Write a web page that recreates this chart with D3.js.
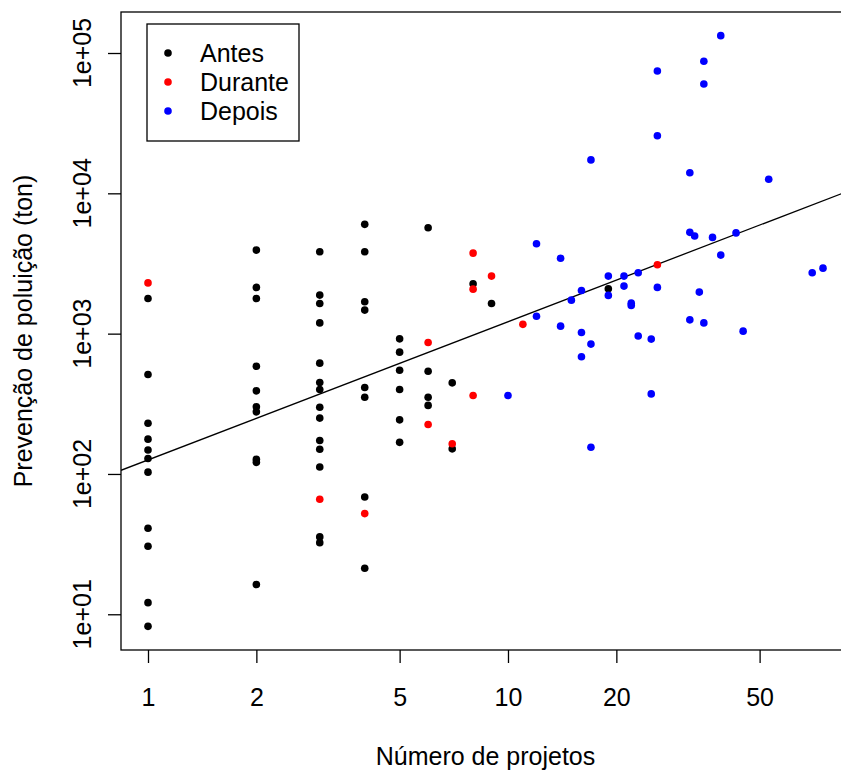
<!DOCTYPE html>
<html>
<head>
<meta charset="utf-8">
<script src="https://cdn.jsdelivr.net/npm/d3@7"></script>
<style>
  body { margin: 0; background: #fff; }
  svg { display: block; }
  text { font-family: "Liberation Sans", Arial, sans-serif; fill: #000; }
</style>
</head>
<body>
<div id="chart"></div>
<script>
// Antes (black)
const antesX = [1,1,1,1,1,1,1,1,1,1,1,
  2,2,2,2,2,2,2,2,2,2,
  3,3,3,3,3,3,3,3,3,3,3,3,3,3,
  4,4,4,4,4,4,4,4,
  5,5,5,5,5,5,
  6,6,6,6,
  7,7, 8, 9, 19];
const antesY = [1782,512,230,177,148,129,103,41,30.5,12.1,8.2,
  3940,2135,1782,586,391,301,277,127,121,16.3,
  3830,1883,1641,1193,616,449,400,299,250,173,150,112,35.6,32.4,
  6010,3830,1687,1472,413,352,68.6,21.3,
  918,738,549,400,243,168,
  5680,540,352,308,
  446,151, 2265, 1641, 2087];

// Durante (red)
const duranteX = [1, 3, 4, 6, 6, 7, 8, 8, 8, 9, 11, 26];
const duranteY = [2300, 66, 52.2, 865, 225, 164, 3750, 2075, 362, 2570, 1165, 3095];

// Depois (blue)
const depoisX = [10,12,12,14,14,15,16,16,16,17,17,17,19,19,21,21,22,22,23,23,25,25,
  26,26,26,32,32,32,33,34,35,35,35,37,39,39,43,45,53,70,75];
const depoisY = [362,4370,1330,3450,1131,1733,2030,1020,684,17300,842,155,2570,1873,2570,2181,1650,1589,2715,963,914,372,
  74400,25700,2135,14000,5270,1254,4960,1977,87300,60100,1193,4850,133000,3630,5222,1042,12600,2715,2930];

const seriesNames = ["Antes", "Durante", "Depois"];
const seriesColors = ["#000000", "#ff0000", "#0000ff"];
const xTicks = [1, 2, 5, 10, 20, 50];
const yTicks = [10, 100, 1000, 10000, 100000];
// log10(y) = fitIntercept + fitSlope * log10(x)
const fitIntercept = 2.10;
const fitSlope = 0.985;

const width = 841, height = 774;
const plot = { left: 121, right: 850, top: 12, bottom: 650 };
const fontSize = "25px";

const svg = d3.select("#chart").append("svg")
  .attr("width", width)
  .attr("height", height);

// log scales with R-style 4% padding
const xLog = [0, Math.log10(75)];
const yLog = [Math.log10(8.2), Math.log10(133000)];
const xPad = (xLog[1] - xLog[0]) * 0.04;
const yPad = (yLog[1] - yLog[0]) * 0.04;

const x = d3.scaleLog()
  .domain([10 ** (xLog[0] - xPad), 10 ** (xLog[1] + xPad)])
  .range([plot.left, plot.right]);
const y = d3.scaleLog()
  .domain([10 ** (yLog[0] - yPad), 10 ** (yLog[1] + yPad)])
  .range([plot.bottom, plot.top]);

svg.append("clipPath").attr("id", "clip")
  .append("rect")
  .attr("x", plot.left).attr("y", plot.top)
  .attr("width", plot.right - plot.left)
  .attr("height", plot.bottom - plot.top);

// x axis
const xAxis = d3.axisBottom(x)
  .tickValues(xTicks)
  .tickFormat(d => String(d))
  .tickSizeInner(13)
  .tickSizeOuter(0)
  .tickPadding(25);
const gx = svg.append("g")
  .attr("transform", "translate(0," + plot.bottom + ")")
  .call(xAxis);
gx.select(".domain").remove();
gx.selectAll("line").attr("stroke", "#000").attr("stroke-width", 1.3);
gx.selectAll("text")
  .style("font-family", "'Liberation Sans', Arial, sans-serif")
  .style("font-size", fontSize)
  .attr("fill", "#000");

// y axis (ticks only, labels rotated)
const yAxis = d3.axisLeft(y)
  .tickValues(yTicks)
  .tickFormat("")
  .tickSizeInner(13)
  .tickSizeOuter(0);
const gy = svg.append("g")
  .attr("transform", "translate(" + plot.left + ",0)")
  .call(yAxis);
gy.select(".domain").remove();
gy.selectAll("line").attr("stroke", "#000").attr("stroke-width", 1.3);

svg.append("g").selectAll("text")
  .data(yTicks)
  .enter()
  .append("text")
  .attr("x", 91)
  .attr("y", d => y(d))
  .attr("transform", d => "rotate(-90,91," + y(d) + ")")
  .attr("text-anchor", "middle")
  .style("font-size", fontSize)
  .text(d => "1e+" + String(Math.round(Math.log10(d))).padStart(2, "0"));

// regression line
const fitLine = d3.line()
  .x(d => x(d))
  .y(d => y(10 ** (fitIntercept + fitSlope * Math.log10(d))));
svg.append("path")
  .datum(x.domain())
  .attr("clip-path", "url(#clip)")
  .attr("d", fitLine)
  .attr("fill", "none")
  .attr("stroke", "#000")
  .attr("stroke-width", 1.3);

// points
const series = [
  { xs: antesX, ys: antesY },
  { xs: duranteX, ys: duranteY },
  { xs: depoisX, ys: depoisY }
];
series.forEach((s, i) => {
  svg.append("g").selectAll("circle")
    .data(s.xs.map((v, j) => [v, s.ys[j]]))
    .enter()
    .append("circle")
    .attr("cx", d => x(d[0]))
    .attr("cy", d => y(d[1]))
    .attr("r", 3.8)
    .attr("fill", seriesColors[i]);
});

// plot box
svg.append("rect")
  .attr("x", plot.left).attr("y", plot.top)
  .attr("width", plot.right - plot.left)
  .attr("height", plot.bottom - plot.top)
  .attr("fill", "none")
  .attr("stroke", "#000")
  .attr("stroke-width", 1.3);

// axis titles
svg.append("text")
  .attr("x", (plot.left + plot.right) / 2)
  .attr("y", 765)
  .attr("text-anchor", "middle")
  .style("font-size", fontSize)
  .text("Número de projetos");

svg.append("text")
  .attr("x", 32)
  .attr("y", (plot.top + plot.bottom) / 2)
  .attr("transform", "rotate(-90,32," + (plot.top + plot.bottom) / 2 + ")")
  .attr("text-anchor", "middle")
  .style("font-size", fontSize)
  .text("Prevenção de poluição (ton)");

// legend
const legend = svg.append("g");
legend.append("rect")
  .attr("x", 147).attr("y", 24)
  .attr("width", 152).attr("height", 117)
  .attr("fill", "#fff")
  .attr("stroke", "#000")
  .attr("stroke-width", 1.3);
const rows = legend.selectAll("g.row")
  .data(seriesNames)
  .enter()
  .append("g")
  .attr("class", "row")
  .attr("transform", (d, i) => "translate(168," + (53 + i * 29) + ")");
rows.append("circle")
  .attr("r", 3.8)
  .attr("fill", (d, i) => seriesColors[i]);
rows.append("text")
  .attr("x", 32)
  .attr("dy", "0.35em")
  .style("font-size", fontSize)
  .text(d => d);
</script>
</body>
</html>
